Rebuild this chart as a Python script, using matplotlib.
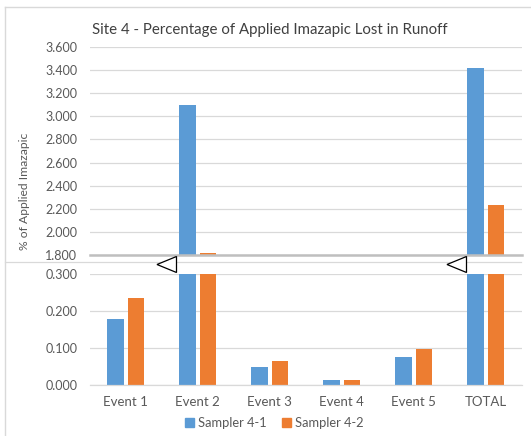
import numpy as np
import matplotlib as mpl
mpl.use('Agg')
import matplotlib.pyplot as plt
from matplotlib.patches import Polygon, Patch
from matplotlib.lines import Line2D
from matplotlib.ticker import FormatStrFormatter

plt.rcParams['font.family'] = ['Lato', 'DejaVu Sans']

# data
categories = ['Event 1', 'Event 2', 'Event 3', 'Event 4', 'Event 5', 'TOTAL']
sampler_41 = [0.178, 3.100, 0.049, 0.013, 0.077, 3.417]
sampler_42 = [0.235, 1.820, 0.066, 0.013, 0.097, 2.231]
series_names = ['Sampler 4-1', 'Sampler 4-2']

blue = '#5B9BD5'
orange = '#ED7D31'
grid_c = '#D9D9D9'
text_c = '#595959'

W, H = 531, 436

def fx(px):
    return px / W

def fy(py):
    return 1 - py / H

fig = plt.figure(figsize=(W / 100, H / 100), dpi=100)

left, right = 89.7, 521.7
ax_top = fig.add_axes([fx(left), fy(255), fx(right) - fx(left), fy(47) - fy(255)])
ax_bot = fig.add_axes([fx(left), fy(385), fx(right) - fx(left), fy(274) - fy(385)])

x = np.arange(len(categories))
w = 0.23
off = 0.145

for ax in (ax_top, ax_bot):
    ax.bar(x - off, sampler_41, w, color=blue, zorder=2)
    ax.bar(x + off, sampler_42, w, color=orange, zorder=2)
    ax.set_xlim(-0.5, 5.5)
    ax.yaxis.grid(True, color=grid_c, lw=0.9, zorder=0)
    ax.set_axisbelow(True)
    for s in ['top', 'right', 'left']:
        ax.spines[s].set_visible(False)
    ax.tick_params(axis='y', length=0, pad=9, labelsize=9, labelcolor=text_c)
    ax.yaxis.set_major_formatter(FormatStrFormatter('%.3f'))

ax_top.set_ylim(1.8, 3.6)
ax_top.set_yticks(np.arange(1.8, 3.61, 0.2))
ax_top.spines['bottom'].set_color('#BFBFBF')
ax_top.spines['bottom'].set_linewidth(1.8)
ax_top.set_xticks([])

ax_bot.set_ylim(0, 0.3)
ax_bot.set_yticks([0, 0.1, 0.2, 0.3])
ax_bot.spines['bottom'].set_color(grid_c)
ax_bot.spines['bottom'].set_linewidth(0.9)
ax_bot.set_xticks(x)
ax_bot.set_xticklabels(categories)
ax_bot.tick_params(axis='x', length=0, pad=8, labelsize=9.5, labelcolor=text_c)

# title and axis label
fig.text(fx(270), fy(30), 'Site 4 - Percentage of Applied Imazapic Lost in Runoff',
         ha='center', va='center', fontsize=10.8, color='#404040')
fig.text(fx(25), fy(191), '% of Applied Imazapic', rotation=90,
         ha='center', va='center', fontsize=8.7, color=text_c)

# chart border and the break line
fig.add_artist(Line2D([fx(4.5), fx(4.5)], [fy(7.5), 0], color=grid_c, lw=1))
fig.add_artist(Line2D([fx(4.5), 1], [fy(7.5), fy(7.5)], color=grid_c, lw=1))
fig.add_artist(Line2D([fx(4.5), fx(521)], [fy(262), fy(262)], color=grid_c, lw=0.9))

# break markers
for rx in (176.5, 466.5):
    tri = Polygon([[fx(rx), fy(256.5)], [fx(rx), fy(272.5)], [fx(rx - 19.5), fy(264.5)]],
                  closed=True, facecolor='white', edgecolor='black', lw=0.9,
                  transform=fig.transFigure, zorder=10)
    fig.add_artist(tri)

handles = [Patch(color=blue), Patch(color=orange)]
fig.legend(handles, series_names, loc='center', bbox_to_anchor=(fx(274), fy(423)),
           ncol=2, frameon=False, fontsize=9.3, handlelength=0.7, handleheight=0.7,
           handletextpad=0.3, columnspacing=1.2, labelcolor=text_c)

fig.savefig('out.png', dpi=100)
